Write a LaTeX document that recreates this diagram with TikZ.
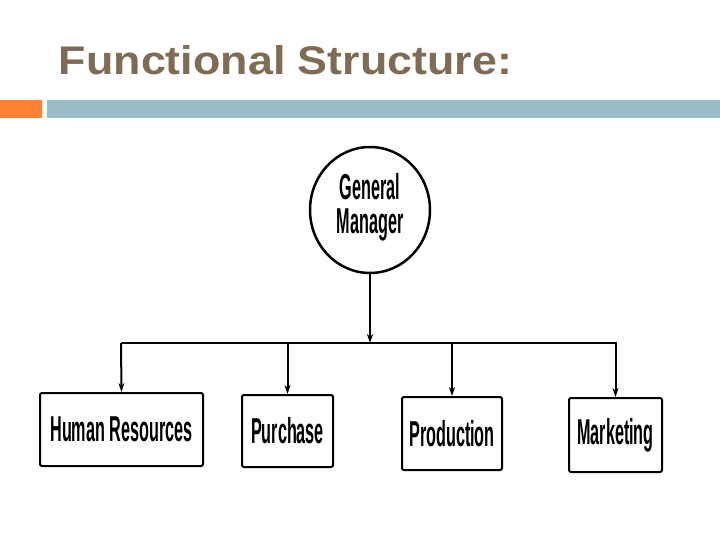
\documentclass[tikz,border=0pt]{standalone}
\usepackage{fontspec}
\setmainfont{Liberation Sans}
\usetikzlibrary{arrows.meta}
\begin{document}
\begin{tikzpicture}[x=1pt,y=-1pt,
  box/.style={draw,line width=2pt,rounded corners=2pt,inner sep=0pt},
  lab/.style={font=\bfseries\fontsize{36}{34}\selectfont,xscale=0.45},
  con/.style={line width=2pt,-{Stealth[length=9pt,width=6pt]}}]
\useasboundingbox[fill=white] (0,0) rectangle (720,540);
\node[anchor=west,text=brown!45!black!75,font=\fontsize{40}{44}\selectfont,xscale=1.12] (title) at (55,60) {\textbf{Functional Structure:}};
\fill[orange!75!red!80!white] (0,100) rectangle (42,118);
\fill[blue!30!cyan!30!gray!60] (47,100) rectangle (720,118);
\draw[line width=2.5pt] (370,210) ellipse [x radius=60, y radius=63];
\node[lab,align=center] (gm) at (370,207) {General\\Manager};
\coordinate (gb) at (370,273);
\coordinate (j) at (370,343);
\node[box,minimum width=163,minimum height=73] (hr) at (121.5,429.5) {};
\node[lab] at (hr) {Human Resources};
\node[box,minimum width=91,minimum height=72] (pu) at (287.5,431) {};
\node[lab] at (pu) {Purchase};
\node[box,minimum width=100,minimum height=73] (pr) at (452,433.5) {};
\node[lab] at (pr) {Production};
\node[box,minimum width=93,minimum height=74] (ma) at (615.5,435) {};
\node[lab] at (ma) {Marketing};
\draw[con] (gb) -- (j);
\draw[line width=2pt] (121,343) -- (617,343);
\draw[con] (121,343) -- (hr.north);
\draw[con] (287.5,343) -- (pu.north);
\draw[con] (452,343) -- (pr.north);
\draw[con] (615.5,343) -- (ma.north);
\end{tikzpicture}
\end{document}
